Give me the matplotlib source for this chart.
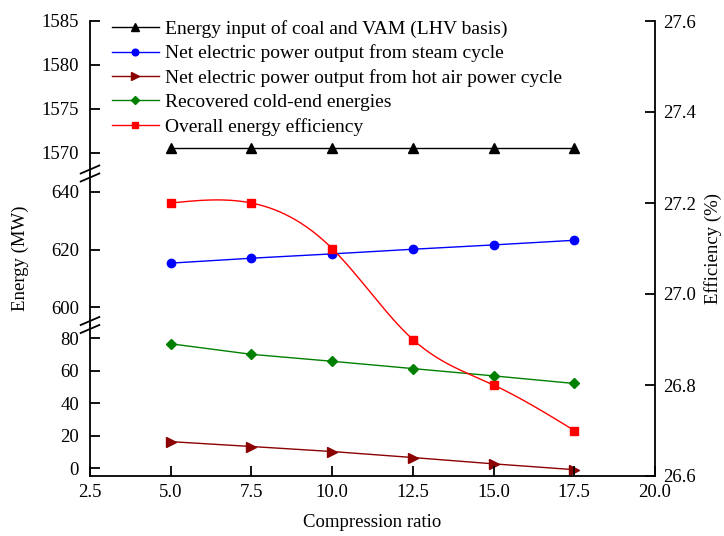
import numpy as np
import matplotlib
matplotlib.use("Agg")
import matplotlib.pyplot as plt
from matplotlib.lines import Line2D

plt.rcParams['font.family'] = ['Liberation Serif', 'DejaVu Serif']
plt.rcParams['font.size'] = 13.5

# data
ratio = [5.0, 7.5, 10.0, 12.5, 15.0, 17.5]
energy_input = [1570.5, 1570.5, 1570.5, 1570.5, 1570.5, 1570.5]
steam_power = [615.3, 617.0, 618.5, 620.1, 621.6, 623.2]
hot_air_power = [16.3, 13.3, 10.2, 6.5, 2.6, -1.0]
cold_end = [76.7, 70.2, 65.9, 61.4, 56.9, 52.2]
efficiency = [27.2, 27.2, 27.1, 26.9, 26.8, 26.7]

x_ticks = [2.5, 5.0, 7.5, 10.0, 12.5, 15.0, 17.5, 20.0]


def natural_spline(x, y, n=300):
    # smooth curve through the points (natural cubic spline), like the original
    x = np.asarray(x, float)
    y = np.asarray(y, float)
    k = len(x)
    h = np.diff(x)
    A = np.zeros((k, k))
    b = np.zeros(k)
    A[0, 0] = A[-1, -1] = 1
    for i in range(1, k - 1):
        A[i, i - 1] = h[i - 1]
        A[i, i] = 2 * (h[i - 1] + h[i])
        A[i, i + 1] = h[i]
        b[i] = 6 * ((y[i + 1] - y[i]) / h[i] - (y[i] - y[i - 1]) / h[i - 1])
    M = np.linalg.solve(A, b)
    xs = np.linspace(x[0], x[-1], n)
    ys = np.empty_like(xs)
    for j, t in enumerate(xs):
        i = min(np.searchsorted(x, t, side='right') - 1, k - 2)
        a = x[i + 1] - t
        c = t - x[i]
        ys[j] = (M[i] * a ** 3 + M[i + 1] * c ** 3) / (6 * h[i]) \
            + (y[i] / h[i] - M[i] * h[i] / 6) * a \
            + (y[i + 1] / h[i] - M[i + 1] * h[i] / 6) * c
    return xs, ys


W, H = 724, 536
fig = plt.figure(figsize=(W / 100, H / 100), dpi=100)

L = 90 / W
R = 655 / W
top_px, b1, b2, bot_px = 21, 173.5, 325, 476


def frac(y0, y1):
    return [L, 1 - y1 / H, R - L, (y1 - y0) / H]


lw = 1.3
ax_top = fig.add_axes(frac(top_px, b1))
ax_mid = fig.add_axes(frac(b1, b2))
ax_bot = fig.add_axes(frac(b2, bot_px))
ax_eff = fig.add_axes(frac(top_px, bot_px))

for ax in (ax_top, ax_mid, ax_bot):
    ax.set_facecolor('none')
    for s in ('top', 'right', 'bottom'):
        ax.spines[s].set_visible(False)
    ax.spines['left'].set_linewidth(lw)
    ax.set_xlim(2.5, 20)
    ax.tick_params(axis='x', bottom=False, labelbottom=False)
    ax.tick_params(axis='y', direction='in', length=7, width=lw, pad=8)

ax_top.set_ylim(1567.63, 1585)
ax_top.set_yticks([1570, 1575, 1580, 1585])
ax_mid.set_ylim(593.9, 646.3)
ax_mid.set_yticks([600, 620, 640])
ax_bot.set_ylim(-4.9, 88.3)
ax_bot.set_yticks([0, 20, 40, 60, 80])

h1, = ax_top.plot(ratio, energy_input, color='black', lw=1, marker='^', ms=6.5,
                  label='Energy input of coal and VAM (LHV basis)')
h2, = ax_mid.plot(ratio, steam_power, color='blue', lw=1, marker='o', ms=6,
                  label='Net electric power output from steam cycle')
h3, = ax_bot.plot(ratio, hot_air_power, color='#8b0000', lw=1, marker='>', ms=6.5,
                  label='Net electric power output from hot air power cycle')
h4, = ax_bot.plot(ratio, cold_end, color='green', lw=1, marker='D', ms=5.5,
                  label='Recovered cold-end energies')

# efficiency on the right axis, whole height
ax_eff.set_facecolor('none')
ax_eff.spines['left'].set_visible(False)
ax_eff.spines['top'].set_visible(False)
ax_eff.spines['right'].set_linewidth(lw)
ax_eff.spines['bottom'].set_linewidth(lw)
ax_eff.set_xlim(2.5, 20)
ax_eff.set_ylim(26.6, 27.6)
ax_eff.set_xticks(x_ticks)
ax_eff.set_xticklabels(['%.1f' % v for v in x_ticks])
ax_eff.set_yticks([26.6, 26.8, 27.0, 27.2, 27.4, 27.6])
ax_eff.yaxis.tick_right()
ax_eff.yaxis.set_label_position('right')
ax_eff.tick_params(axis='both', direction='in', length=7, width=lw, pad=6)
ax_eff.tick_params(axis='y', left=False)
xs, ys = natural_spline(ratio, efficiency)
ax_eff.plot(xs, ys, color='red', lw=1)
ax_eff.plot(ratio, efficiency, ls='none', color='red', marker='s', ms=5.5)
h5 = Line2D([], [], color='red', lw=1, marker='s', ms=5.5,
            label='Overall energy efficiency')

ax_eff.set_xlabel('Compression ratio', labelpad=9)
ax_eff.set_ylabel('Efficiency (%)', labelpad=6)
fig.text(20 / W, 1 - 258 / H, 'Energy (MW)', rotation=90, ha='center', va='center')

# break marks on the left spine
for yb in (b1, b2):
    for off in (-4, 4):
        y0 = yb + off
        fig.add_artist(Line2D([80.7 / W, 99.3 / W],
                              [1 - (y0 + 4) / H, 1 - (y0 - 4) / H],
                              color='black', lw=1.3))

fig.legend(handles=[h1, h2, h3, h4, h5], loc='upper left',
           bbox_to_anchor=(112 / W, 1 - 20 / H), frameon=False,
           borderpad=0, borderaxespad=0, handlelength=2.4, markerscale=0.8,
           handletextpad=0.35, labelspacing=0.34, fontsize=14)

fig.savefig('out.png', dpi=100)
